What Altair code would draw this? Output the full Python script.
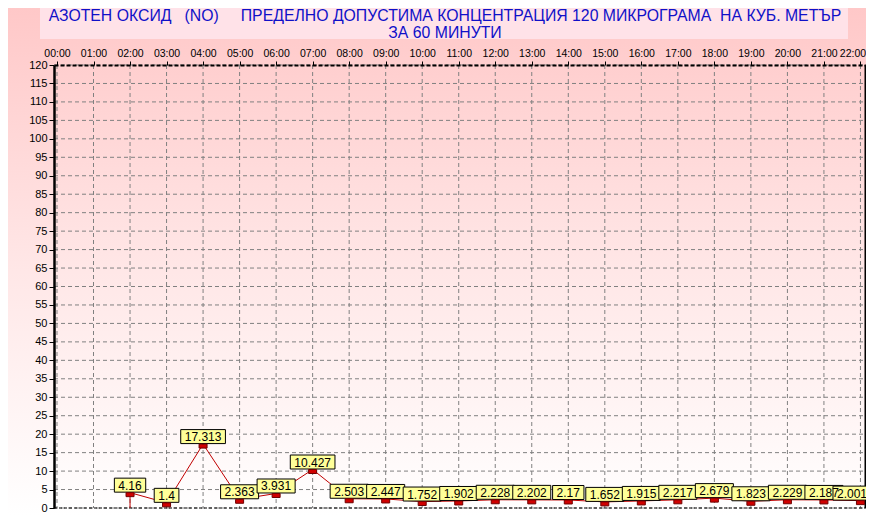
import altair as alt
import pandas as pd

# ---------------- data ----------------
hour_labels = ["00:00", "01:00", "02:00", "03:00", "04:00", "05:00", "06:00", "07:00",
               "08:00", "09:00", "10:00", "11:00", "12:00", "13:00", "14:00", "15:00",
               "16:00", "17:00", "18:00", "19:00", "20:00", "21:00", "22:00"]
hours = list(range(2, 23))
values = [4.16, 1.4, 17.313, 2.363, 3.931, 10.427, 2.503, 2.447, 1.752, 1.902, 2.228,
          2.202, 2.17, 1.652, 1.915, 2.217, 2.679, 1.823, 2.229, 2.187, 2.001]
y_ticks = list(range(0, 121, 5))
title_line1 = "АЗОТЕН ОКСИД   (NO)     ПРЕДЕЛНО ДОПУСТИМА КОНЦЕНТРАЦИЯ 120 МИКРОГРАМА  НА КУБ. МЕТЪР"
title_line2 = "ЗА 60 МИНУТИ"

# ---------------- layout ----------------
W, H = 812, 443
PAD = {"left": 46, "top": 57, "right": 0, "bottom": 8}
X_MIN, X_MAX = -0.082, 22.152
PPH = W / (X_MAX - X_MIN)
FONT = "Liberation Sans"

x_scale = alt.Scale(domain=[X_MIN, X_MAX], nice=False, zero=False)
y_scale = alt.Scale(domain=[0, 120], nice=False, zero=True)

last_hour = len(hour_labels) - 1
label_expr = "[" + ",".join("'%s'" % s for s in hour_labels) + "][datum.value]"

x_axis = alt.Axis(orient="top", values=list(range(len(hour_labels))), labelExpr=label_expr,
                  title=None, grid=False, labelFont=FONT, labelFontSize=10.5,
                  labelColor="black", labelPadding=3, labelFlush=False,
                  labelOffset={"condition": {"test": "datum.value == %d" % last_hour, "value": -8},
                               "value": 0},
                  labelOverlap=False, labelBound=False, tickSize=4, tickColor="black",
                  domainColor="black", domainWidth=2, domainDash=[4, 2], zindex=1)
y_axis = alt.Axis(orient="left", values=y_ticks, title=None, grid=False,
                  labelFont=FONT, labelFontSize=11, labelColor="black",
                  labelPadding=2, labelFlush=False, labelOverlap=False,
                  tickSize=5, tickColor="black", domainColor="black",
                  domainWidth=2.5, zindex=1)


def text_w(s):
    return sum(3.34 if c == "." else 6.67 for c in s)


df = pd.DataFrame({"hour": hours, "value": values})
df["label"] = [str(v) for v in values]
half = pd.Series([(text_w(s) + 8) / 2 / PPH for s in df["label"]])
# label boxes are centred on their point; the text is kept readable inside the frame
df["lx"] = [min(h, X_MAX - (text_w(s) / 2 - 1) / PPH) for h, s in zip(df["hour"], df["label"])]
df["bx1"] = df["lx"] - half
df["bx2"] = df["lx"] + half

grid_x = pd.DataFrame({"hour": list(range(len(hour_labels)))})
grid_y = pd.DataFrame({"value": y_ticks})
one = pd.DataFrame({"a": [0]})
first = df.iloc[[0]].copy()
first["zero"] = 0


def X(field):
    return alt.X(field, type="quantitative", scale=x_scale, axis=x_axis)


def Y(field):
    return alt.Y(field, type="quantitative", scale=y_scale, axis=y_axis)


# background gradient
bg = alt.Chart(one).mark_rect(
    color=alt.LinearGradient(
        gradient="linear",
        stops=[alt.GradientStop(color="#ffc8c8", offset=0),
               alt.GradientStop(color="#ffe6e6", offset=0.5),
               alt.GradientStop(color="#ffffff", offset=1)],
        x1=0, x2=0, y1=0, y2=1)
).encode(x=alt.value(-PAD["left"]), x2=alt.value(W + PAD["right"]),
         y=alt.value(-PAD["top"]), y2=alt.value(H + PAD["bottom"]))

title_box = alt.Chart(one).mark_rect(color="#ffe2e8").encode(
    x=alt.value(-14), x2=alt.value(794), y=alt.value(-PAD["top"]), y2=alt.value(-26))

t1 = alt.Chart(one).mark_text(font=FONT, fontSize=15.8, color="#1010c8", align="center",
                              baseline="alphabetic").encode(
    x=alt.value(391), y=alt.value(-44), text=alt.value(title_line1.replace(" ", "\u00a0")))
t2 = alt.Chart(one).mark_text(font=FONT, fontSize=15.8, color="#1010c8", align="center",
                              baseline="alphabetic").encode(
    x=alt.value(391), y=alt.value(-27.5), text=alt.value(title_line2.replace(" ", "\u00a0")))

vgrid = alt.Chart(grid_x).mark_rule(color="#808080", strokeDash=[4, 3], strokeWidth=1).encode(
    x=X("hour"), y=alt.value(0), y2=alt.value(H))

hgrid = alt.Chart(grid_y).mark_rule(color="#808080", strokeDash=[4, 3], strokeWidth=1).encode(
    y=Y("value"), x=alt.value(0), x2=alt.value(W))

right_border = alt.Chart(one).mark_rule(color="black", strokeWidth=1.5).encode(
    x=alt.value(W - 0.75), y=alt.value(0), y2=alt.value(H))
bottom_border = alt.Chart(one).mark_rule(color="black", strokeWidth=1, strokeDash=[3, 2]).encode(
    y=alt.value(H), x=alt.value(0), x2=alt.value(W))

line = alt.Chart(df).mark_line(color="#c00000", strokeWidth=1).encode(
    x=X("hour"), y=Y("value"))

drop = alt.Chart(first).mark_rule(color="#c00000", strokeWidth=1).encode(
    x=X("hour"), y=Y("zero"), y2="value:Q")

boxes = alt.Chart(df).mark_rect(fill="#ffff99", stroke="black", strokeWidth=1,
                                yOffset=-0.5, y2Offset=-14.5).encode(
    x=X("bx1"), x2="bx2:Q", y=Y("value"), y2="value:Q")

texts = alt.Chart(df).mark_text(font=FONT, fontSize=12, color="black", align="center",
                                baseline="middle", dy=-7).encode(
    x=X("lx"), y=Y("value"), text="label:N")

markers = alt.Chart(df).mark_point(shape="M-1,0L1,0L1,1L-1,1Z", size=64, filled=True,
                                   fill="#d00000", stroke="#700000", strokeWidth=1,
                                   opacity=1).encode(
    x=X("hour"), y=Y("value"))

chart = alt.layer(
    bg, title_box, t1, t2, vgrid, hgrid, right_border, bottom_border,
    line, drop, boxes, texts, markers
).properties(
    width=W, height=H, padding=PAD, autosize=alt.AutoSizeParams(type="none"),
    background="white"
).configure_view(strokeWidth=0)

chart.save("out.html", embed_options={"renderer": "svg", "actions": False})
